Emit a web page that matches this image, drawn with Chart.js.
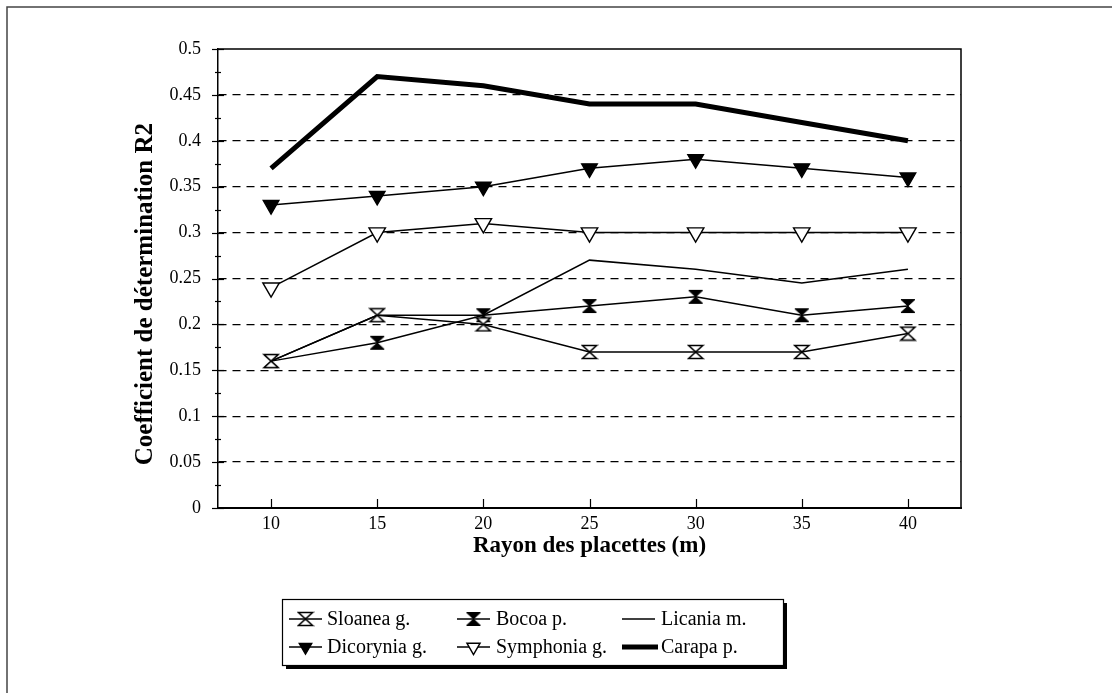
<!DOCTYPE html>
<html><head><meta charset="utf-8">
<script src="https://cdn.jsdelivr.net/npm/chart.js@4.4.0/dist/chart.umd.min.js"></script>
<style>html,body{margin:0;padding:0;background:#fff}canvas{display:block}</style>
</head><body>
<canvas id="c" width="1112" height="693"></canvas>
<script>
const radii = ['10', '15', '20', '25', '30', '35', '40'];
const sloanea = [0.16, 0.21, 0.20, 0.17, 0.17, 0.17, 0.19];
const bocoa = [0.16, 0.18, 0.21, 0.22, 0.23, 0.21, 0.22];
const licania = [0.16, 0.21, 0.21, 0.27, 0.26, 0.245, 0.26];
const dicorynia = [0.33, 0.34, 0.35, 0.37, 0.38, 0.37, 0.36];
const symphonia = [0.24, 0.30, 0.31, 0.30, 0.30, 0.30, 0.30];
const carapa = [0.37, 0.47, 0.46, 0.44, 0.44, 0.42, 0.40];
const seriesNames = ['Sloanea g.', 'Bocoa p.', 'Licania m.', 'Dicorynia g.', 'Symphonia g.', 'Carapa p.'];
const yMin = 0, yMax = 0.5, yStep = 0.05;

const SERIF = "'Liberation Serif', 'Times New Roman', serif";

function hourglass(filled) {
  const c = document.createElement('canvas');
  c.width = 18; c.height = 16;
  const x = c.getContext('2d');
  x.beginPath();
  x.moveTo(2, 1.5); x.lineTo(16, 1.5); x.lineTo(2, 14.5); x.lineTo(16, 14.5); x.closePath();
  if (filled) { x.fillStyle = '#000'; x.fill(); x.lineWidth = 1; x.strokeStyle = '#000'; x.stroke(); }
  else { x.fillStyle = '#fff'; x.fill(); x.lineWidth = 1.6; x.strokeStyle = '#000'; x.stroke(); }
  return c;
}
const hgOpen = hourglass(false), hgFill = hourglass(true);

function ds(label, data, extra) {
  return Object.assign({
    label, data, borderColor: '#000', backgroundColor: '#000', borderWidth: 1.5,
    tension: 0, pointRadius: 0, pointBorderColor: '#000', pointBackgroundColor: '#000',
    pointBorderWidth: 1.4, pointRotation: 0, pointStyle: 'circle'
  }, extra);
}

const datasets = [
  ds(seriesNames[0], sloanea, {pointStyle: hgOpen, pointRadius: 9}),
  ds(seriesNames[1], bocoa, {pointStyle: hgFill, pointRadius: 9}),
  ds(seriesNames[2], licania, {pointRadius: 0}),
  ds(seriesNames[3], dicorynia, {pointStyle: 'triangle', pointRotation: 180, pointRadius: 9}),
  ds(seriesNames[4], symphonia, {pointStyle: 'triangle', pointRotation: 180, pointRadius: 9.5, pointBackgroundColor: '#fff'}),
  ds(seriesNames[5], carapa, {borderWidth: 5, pointRadius: 0})
];

const decor = {
  id: 'decor',
  beforeDraw(chart) {
    const c = chart.ctx;
    c.save();
    c.fillStyle = '#fff'; c.fillRect(0, 0, chart.width, chart.height);
    c.strokeStyle = '#444'; c.lineWidth = 1.5;
    c.beginPath(); c.moveTo(7, chart.height); c.lineTo(7, 7); c.lineTo(chart.width, 7); c.stroke();
    c.restore();
  },
  afterDraw(chart) {
    const c = chart.ctx, a = chart.chartArea, ys = chart.scales.y, xs = chart.scales.x;
    c.save();
    c.strokeStyle = '#000';
    c.lineWidth = 1.5;
    c.beginPath(); c.moveTo(a.left, a.top); c.lineTo(a.right, a.top); c.lineTo(a.right, a.bottom); c.stroke();
    c.lineWidth = 1.2;
    for (let i = 0; i <= Math.round((yMax - yMin) / (yStep / 2)); i++) {
      const v = yMin + i * yStep / 2;
      const py = Math.round(ys.getPixelForValue(v)) + 0.5;
      const major = i % 2 === 0;
      c.beginPath(); c.moveTo(a.left - (major ? 6 : 3), py); c.lineTo(a.left + (major ? 6 : 3), py); c.stroke();
    }
    for (let i = 0; i < radii.length; i++) {
      const px = Math.round(xs.getPixelForValue(i)) + 0.5;
      c.beginPath(); c.moveTo(px, a.bottom); c.lineTo(px, a.bottom - 9); c.stroke();
    }
    const L = {x: 282, y: 599, w: 501, h: 66};
    c.fillStyle = '#000';
    c.fillRect(L.x + 4, L.y + 4, L.w, L.h);
    c.fillStyle = '#fff';
    c.fillRect(L.x, L.y, L.w, L.h);
    c.lineWidth = 1.2;
    c.strokeRect(L.x + 0.5, L.y + 0.5, L.w, L.h);
    const colLine = [289, 457, 622], colText = [327, 496, 661], rowY = [619, 647];
    c.font = '20px ' + SERIF;
    c.textBaseline = 'middle';
    chart.data.datasets.forEach((d, i) => {
      const col = i % 3, row = Math.floor(i / 3);
      const x0 = colLine[col], y0 = rowY[row], len = d.borderWidth > 3 ? 36 : 33;
      c.strokeStyle = d.borderColor; c.lineWidth = d.borderWidth;
      c.beginPath(); c.moveTo(x0, y0); c.lineTo(x0 + len, y0); c.stroke();
      if (d.pointRadius > 0) {
        c.fillStyle = d.pointBackgroundColor; c.strokeStyle = d.pointBorderColor; c.lineWidth = d.pointBorderWidth;
        Chart.helpers.drawPoint(c, {pointStyle: d.pointStyle, radius: d.pointRadius * 0.8, rotation: d.pointRotation, borderWidth: d.pointBorderWidth}, x0 + len / 2, y0);
      }
      c.fillStyle = '#000';
      c.fillText(d.label, colText[col], y0 + 1);
    });
    c.restore();
  }
};

new Chart(document.getElementById('c'), {
  type: 'line',
  data: {labels: radii, datasets},
  plugins: [decor],
  options: {
    responsive: false, animation: false, devicePixelRatio: 1,
    layout: {padding: {left: 0, top: 49, right: 151, bottom: 125}},
    plugins: {legend: {display: false}, tooltip: {enabled: false}},
    scales: {
      x: {
        type: 'category', offset: true,
        grid: {display: false, drawTicks: false},
        border: {display: true, color: '#000', width: 2},
        ticks: {font: {family: SERIF, size: 18}, color: '#000', padding: 5, maxRotation: 0, autoSkip: false},
        title: {display: true, text: 'Rayon des placettes (m)', font: {family: SERIF, size: 23, weight: 'bold'}, color: '#000', padding: {top: 0, bottom: 8}},
        afterFit(s) { s.height = 60; }
      },
      y: {
        min: yMin, max: yMax,
        ticks: {stepSize: yStep, font: {family: SERIF, size: 18}, color: '#000', padding: 17,
          callback: (v) => String(Number(Number(v).toFixed(2)))},
        grid: {
          drawTicks: false, lineWidth: 1.3,
          color: (ctx) => (ctx.tick && (Math.abs(ctx.tick.value - yMin) < 1e-9 || Math.abs(ctx.tick.value - yMax) < 1e-9)) ? 'rgba(0,0,0,0)' : '#000'
        },
        border: {display: true, color: '#000', width: 1.5, dash: [8, 6]},
        title: {display: true, text: 'Coefficient de détermination R2\u2002\u2002 ', font: {family: SERIF, size: 25, weight: 'bold'}, color: '#000', padding: {top: 131, bottom: 0}},
        afterFit(s) { s.width = 218; }
      }
    }
  }
});
</script>
</body></html>
